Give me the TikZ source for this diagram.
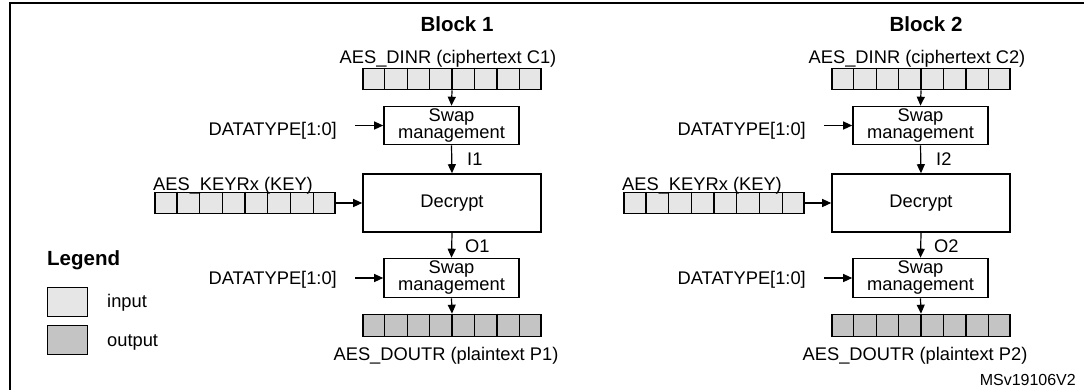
\documentclass[tikz,border=0pt]{standalone}
\usepackage{fontspec}
\setmainfont{Liberation Sans}
\usetikzlibrary{arrows.meta,calc}
\definecolor{infill}{HTML}{E6E6E6}
\definecolor{outfill}{HTML}{C4C4C4}
\tikzset{
  lbl/.style={font=\fontsize{18.3}{17}\selectfont, inner sep=0pt},
  ttl/.style={font=\fontsize{20.5}{22}\selectfont\bfseries, inner sep=0pt},
  swapbox/.style={draw, line width=1.6pt, minimum width=135pt, minimum height=38pt, inner sep=0pt, align=center, font=\fontsize{18.3}{17}\selectfont},
  decbox/.style={draw, line width=1.6pt, minimum width=178pt, minimum height=58pt, inner sep=0pt, font=\fontsize{18.3}{17}\selectfont},
  reg/.style={draw, line width=1.6pt, minimum width=178pt, minimum height=21pt, inner sep=0pt},
  inreg/.style={reg, fill=infill},
  outreg/.style={reg, fill=outfill},
  cellline/.style={line width=1.2pt},
  arr/.style={line width=1.2pt, -{Triangle[length=9pt,width=8pt]}},
}
\newcommand\regcells[1]{%
  \foreach \k in {1,...,7}{%
    \draw[cellline] ($(#1.north west)!\k/8!(#1.north east)$) -- ($(#1.south west)!\k/8!(#1.south east)$);
  }%
}
\begin{document}
\begin{tikzpicture}[x=1pt,y=-1pt]
\useasboundingbox (0,0) rectangle (1084,389);
\fill[white] (0,0) rectangle (1084,389);
\draw[line width=2.5pt] (10,400) -- (10,3) -- (1100,3);

\foreach \b/\dx in {1/0,2/469}{
  \node[ttl, anchor=base] (title\b) at (457+\dx,31) {Block \b};
  \node[lbl, anchor=base] (dinl\b) at (448+\dx,63) {AES\_DINR (ciphertext C\b)};
  \node[inreg] (din\b) at (452+\dx,79) {};
  \regcells{din\b}
  \node[swapbox] (swa\b) at (451.5+\dx,125.5) {Swap\\management};
  \node[lbl, anchor=base east] (dta\b) at (337+\dx,135) {DATATYPE[1:0]};
  \node[decbox] (dec\b) at (452+\dx,203) {Decrypt};
  \node[inreg, minimum width=180pt] (key\b) at (245+\dx,203) {};
  \regcells{key\b}
  \node[lbl, anchor=base] (keyl\b) at (233+\dx,190) {AES\_KEYRx (KEY)};
  \node[swapbox, minimum height=39pt] (swb\b) at (451.5+\dx,278) {Swap\\management};
  \node[lbl, anchor=base east] (dtb\b) at (337+\dx,284) {DATATYPE[1:0]};
  \node[outreg, minimum height=22pt] (dout\b) at (452+\dx,325.5) {};
  \regcells{dout\b}
  \node[lbl, anchor=base] (doutl\b) at (446+\dx,360) {AES\_DOUTR (plaintext P\b)};
  \node[lbl, anchor=base west] (il\b) at (467+\dx,165) {I\b};
  \node[lbl, anchor=base west] (ol\b) at (465+\dx,252) {O\b};

  \draw[arr] (din\b.south) -- (swa\b.north);
  \draw[arr, shorten <=18pt] (dta\b.east |- swa\b.west) -- (swa\b.west);
  \draw[arr] (swa\b.south) -- (dec\b.north);
  \draw[arr] (key\b.east) -- (dec\b.west);
  \draw[arr] (dec\b.south) -- (swb\b.north);
  \draw[arr, shorten <=18pt] (dtb\b.east |- swb\b.west) -- (swb\b.west);
  \draw[arr] (swb\b.south) -- (dout\b.north);
}

\node[ttl, anchor=base west] (leg) at (47,265) {Legend};
\node[draw, line width=1.6pt, fill=infill, minimum width=40pt, minimum height=29pt, inner sep=0pt] (legin) at (67.5,302) {};
\node[draw, line width=1.6pt, fill=outfill, minimum width=40pt, minimum height=29pt, inner sep=0pt] (legout) at (67.5,340) {};
\node[lbl, anchor=base west] (legint) at (107,307) {input};
\node[lbl, anchor=base west] (legoutt) at (107,346) {output};
\node[font=\fontsize{16}{18}\selectfont, anchor=base east, inner sep=0pt] (ref) at (1076,385) {MSv19106V2};
\end{tikzpicture}
\end{document}
